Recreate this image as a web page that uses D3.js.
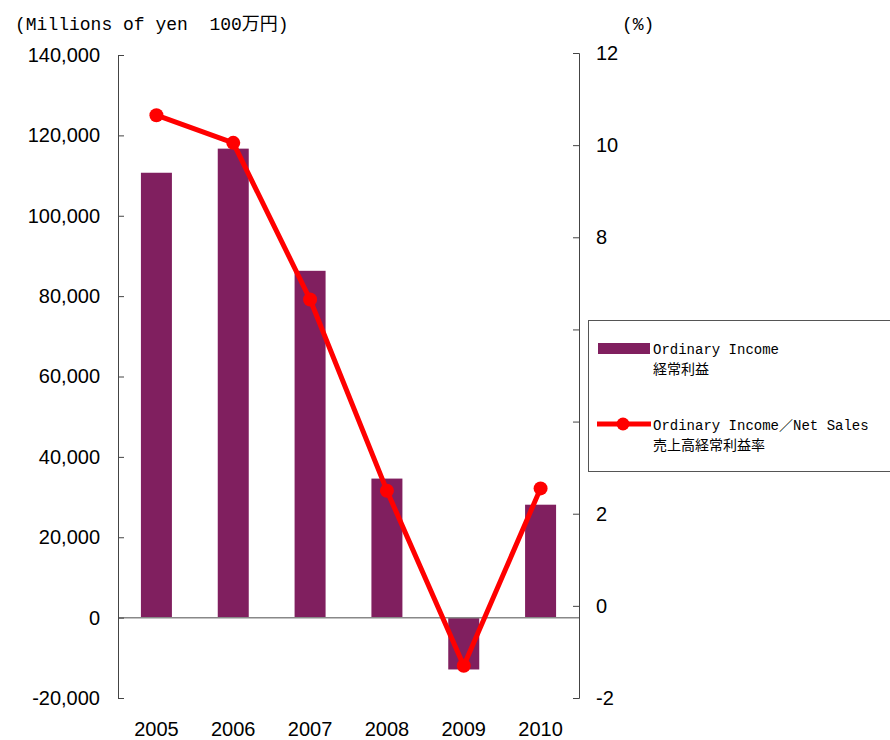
<!DOCTYPE html>
<html><head><meta charset="utf-8">
<script src="https://cdn.jsdelivr.net/npm/d3@7"></script>
<style>body{margin:0;background:#fff}</style>
</head><body>
<script>
const years = ["2005","2006","2007","2008","2009","2010"];
const ordinaryIncome = [110700, 116700, 86300, 34600, -12900, 28100];
const ratio = [10.65, 10.05, 6.65, 2.5, -1.3, 2.55];
const leftTicks = [-20000,0,20000,40000,60000,80000,100000,120000,140000];
const rightTicks = [-2,0,2,4,6,8,10,12];

const W=890,H=740;
const svg=d3.select("body").append("svg").attr("width",W).attr("height",H);
const x0=118,x1=579;
const x=d3.scaleBand().domain(years).range([x0,x1]).paddingInner(0.6).paddingOuter(0.3);
const xc=d3.scaleBand().domain(years).range([x0,x1]);
const yL=d3.scaleLinear().domain([-20000,140000]).range([698,55]);
const yR=d3.scaleLinear().domain([-2,12]).range([698,53]);
const sans="'Liberation Sans', Arial, sans-serif";
const mono="'Liberation Mono','Noto Sans CJK JP',monospace";

// bars
svg.selectAll("rect.bar").data(ordinaryIncome).enter().append("rect")
  .attr("x",(d,i)=>xc(years[i])+xc.bandwidth()/2-15.5).attr("width",31)
  .attr("y",d=>yL(Math.max(0,d))).attr("height",d=>Math.abs(yL(d)-yL(0)))
  .attr("fill","#801F5F");

// zero line
svg.append("line").attr("x1",x0).attr("x2",x1).attr("y1",yL(0)).attr("y2",yL(0))
  .attr("stroke","#888").attr("stroke-width",1.5);

// left axis
const gL=svg.append("g").attr("transform",`translate(${x0},0)`)
  .call(d3.axisLeft(yL).tickValues(leftTicks).tickSizeInner(-6).tickSizeOuter(-6).tickPadding(18)
  .tickFormat(d=>d3.format(",")(d).replace("−","-")));
gL.select(".domain").attr("stroke","#444");
gL.selectAll(".tick line").attr("stroke","#444");
gL.selectAll("text").attr("font-family",sans).attr("font-size",20).attr("fill","#000");

// right axis
const gR=svg.append("g").attr("transform",`translate(${x1},0)`)
  .call(d3.axisRight(yR).tickValues(rightTicks).tickSizeInner(-6).tickSizeOuter(-6).tickPadding(17)
  .tickFormat(d=>String(d).replace("−","-")));
gR.select(".domain").attr("stroke","#444");
gR.selectAll(".tick line").attr("stroke","#444");
gR.selectAll("text").attr("font-family",sans).attr("font-size",20).attr("fill","#000");

// x labels
svg.selectAll("text.xl").data(years).enter().append("text")
  .attr("x",d=>xc(d)+xc.bandwidth()/2).attr("y",736).attr("text-anchor","middle")
  .attr("font-family",sans).attr("font-size",20).text(d=>d);

// line
const line=d3.line().x((d,i)=>xc(years[i])+xc.bandwidth()/2).y(d=>yR(d));
svg.append("path").datum(ratio).attr("d",line).attr("fill","none")
  .attr("stroke","#FF0000").attr("stroke-width",5).attr("stroke-linejoin","round");
svg.selectAll("circle.pt").data(ratio).enter().append("circle")
  .attr("cx",(d,i)=>xc(years[i])+xc.bandwidth()/2).attr("cy",d=>yR(d)).attr("r",7)
  .attr("fill","#FF0000");

// titles
svg.append("text").attr("x",15).attr("y",30).attr("font-family",mono).attr("font-size",18)
  .attr("xml:space","preserve").style("white-space","pre").text("(Millions of yen  100万円)");
svg.append("text").attr("x",622).attr("y",30).attr("font-family",mono).attr("font-size",18)
  .text("(%)");

// legend
svg.append("rect").attr("x",588.5).attr("y",320.5).attr("width",310).attr("height",151)
  .attr("fill","#fff").attr("stroke","#555").attr("stroke-width",1);
svg.append("rect").attr("x",598).attr("y",343).attr("width",52).attr("height",11).attr("fill","#801F5F");
svg.append("line").attr("x1",597).attr("x2",651).attr("y1",424).attr("y2",424)
  .attr("stroke","#FF0000").attr("stroke-width",5);
svg.append("circle").attr("cx",623).attr("cy",424).attr("r",6.5).attr("fill","#FF0000");
const lt=[["Ordinary Income",354],["経常利益",374],["Ordinary Income／Net Sales",430],["売上高経常利益率",450]];
svg.selectAll("text.lg").data(lt).enter().append("text")
  .attr("x",653).attr("y",d=>d[1]).attr("font-family",mono).attr("font-size",14)
  .style("white-space","pre").text(d=>d[0]);
</script>
</body></html>
